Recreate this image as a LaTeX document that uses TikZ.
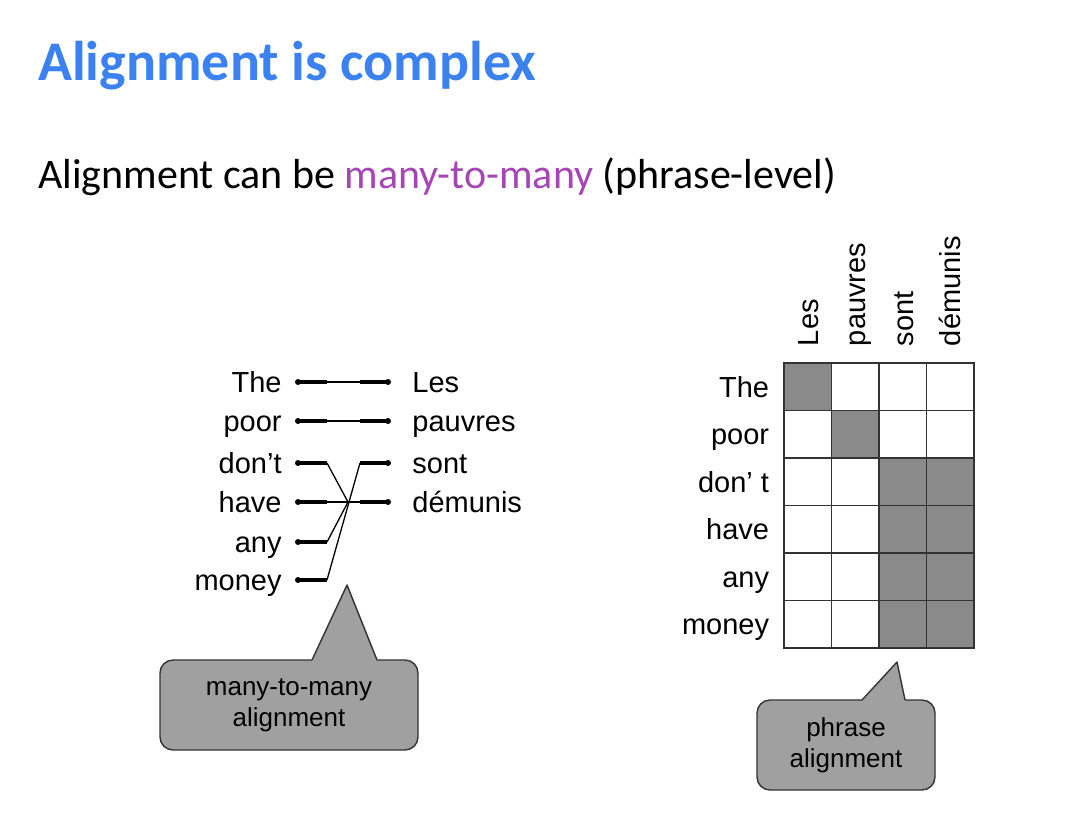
\documentclass[tikz,border=0pt]{standalone}
\usepackage{fontspec}
\setmainfont{Liberation Sans}
\newfontfamily\slidefont{Carlito}
\usetikzlibrary{positioning}

\definecolor{titleblue}{RGB}{59,130,240}
\definecolor{manypurple}{RGB}{165,70,180}
\definecolor{cellgray}{RGB}{138,138,138}
\definecolor{notegray}{RGB}{160,160,160}

\tikzset{
  word/.style={font=\fontsize{29}{30}\selectfont, inner sep=0pt, text height=21pt, text depth=0pt},
  notetext/.style={font=\fontsize{26}{31}\selectfont},
  dot/.style={circle, fill=black, inner sep=0pt, minimum size=6pt},
  stub/.style={line width=3.6pt},
  link/.style={line width=1.3pt},
  cell/.style={draw=black!80, line width=1.5pt, minimum size=47.5pt, inner sep=0pt},
  hit/.style={cell, fill=cellgray},
  notebox/.style={notetext, fill=notegray, draw=black!80, line width=1.4pt, rounded corners=13pt, align=center},
}

\begin{document}
\begin{tikzpicture}[x=1pt, y=-1pt]
\useasboundingbox (0,0) rectangle (1086,828);

% headings
\node[anchor=base west, inner sep=0pt, text=titleblue, font=\slidefont\bfseries\fontsize{56}{60}\selectfont] (title) at (38,80) {Alignment is complex};
\node[anchor=base west, inner sep=0pt, font=\slidefont\fontsize{42}{46}\selectfont] (subtitle) at (38,188) {Alignment can be \textcolor{manypurple}{many-to-many} (phrase-level)};

% word links, English side
\node[dot] (lThe) at (298,382) {};
\node[dot] (lPoor) at (298,421) {};
\node[dot] (lDont) at (298,463) {};
\node[dot] (lHave) at (298,502) {};
\node[dot] (lAny) at (298,542) {};
\node[dot] (lMoney) at (298,580) {};
\node[word, anchor=east, left=13pt of lThe] (wThe) {The};
\node[word, anchor=east, left=13pt of lPoor] (wPoor) {poor};
\node[word, anchor=east, left=13pt of lDont] (wDont) {don’t};
\node[word, anchor=east, left=13pt of lHave] (wHave) {have};
\node[word, anchor=east, left=13pt of lAny] (wAny) {any};
\node[word, anchor=east, left=13pt of lMoney] (wMoney) {money};

% French side
\node[dot] (rLes) at (388,382) {};
\node[dot] (rPauvres) at (388,421) {};
\node[dot] (rSont) at (388,463) {};
\node[dot] (rDemunis) at (388,502) {};
\node[word, anchor=west, right=21pt of rLes] (wLes) {Les};
\node[word, anchor=west, right=21pt of rPauvres] (wPauvres) {pauvres};
\node[word, anchor=west, right=21pt of rSont] (wSont) {sont};
\node[word, anchor=west, right=21pt of rDemunis] (wDemunis) {démunis};

\foreach \n in {lThe,lPoor,lDont,lHave,lAny,lMoney}
  \draw[stub] (\n.center) -- ++(29,0) coordinate (\n-e);
\foreach \n in {rLes,rPauvres,rSont,rDemunis}
  \draw[stub] (\n.center) -- ++(-28,0) coordinate (\n-e);

\coordinate (hub) at (348,502);
\draw[link] (lThe-e) -- (rLes-e);
\draw[link] (lPoor-e) -- (rPauvres-e);
\draw[link] (lHave-e) -- (rDemunis-e);
\draw[link] (lDont-e) -- (hub);
\draw[link] (lAny-e) -- (hub);
\draw[link] (lMoney-e) -- (rSont-e);

% alignment grid
\foreach \r in {1,...,6}
  \foreach \c in {1,...,4}
    \node[cell] (cell-\r-\c) at ({784+(\c-0.5)*47.5},{363+(\r-0.5)*47.5}) {};
\foreach \r/\c in {1/1,2/2,3/3,3/4,4/3,4/4,5/3,5/4,6/3,6/4}
  \node[hit] at (cell-\r-\c) {};

\foreach \r/\w in {1/The,2/poor,3/don’ t,4/have,5/any,6/money}
  \node[word, anchor=east, left=14pt of cell-\r-1] (row-\r) {\w};
\foreach \c/\w in {1/Les,2/pauvres,3/sont,4/démunis}
  \node[word, rotate=90, anchor=west] (col-\c) at ([yshift=16pt]cell-1-\c.north) {\w};

% callouts
\node[notebox, minimum width=258pt, minimum height=90pt] (manynote) at (289,705) {many-to-many\\alignment};
\coordinate (manytip) at (347,585);
\fill[notegray] (312,661) -- (manytip) -- (377,661) -- cycle;
\draw[black!80, line width=1.4pt, line join=round] (312,660) -- (manytip) -- (377,660);

\node[notebox, minimum width=178pt, minimum height=90pt] (phrasenote) at (846,745) {phrase\\alignment};
\coordinate (phrasetip) at (897,662);
\fill[notegray] (862,701) -- (phrasetip) -- (905,701) -- cycle;
\draw[black!80, line width=1.4pt, line join=round] (862,700) -- (phrasetip) -- (905,700);
\end{tikzpicture}
\end{document}
